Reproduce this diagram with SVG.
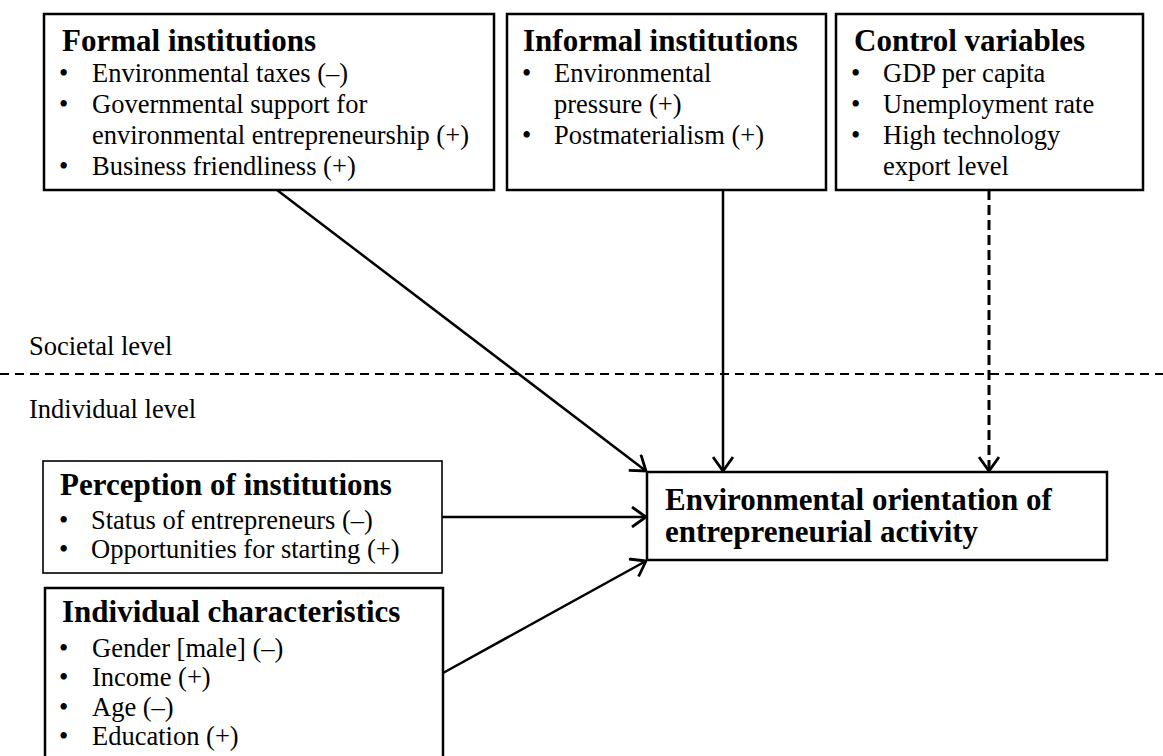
<svg xmlns="http://www.w3.org/2000/svg" width="1163" height="756" viewBox="0 0 1163 756">
<style>
.box{fill:#fff;stroke:#000;stroke-width:2.5}
.thin{fill:#fff;stroke:#000;stroke-width:1.6}
.t{font-family:"Liberation Serif","Times New Roman",serif;font-weight:bold;font-size:31px;fill:#000}
.b{font-family:"Liberation Serif","Times New Roman",serif;font-size:26.5px;fill:#000}
.lvl{font-family:"Liberation Serif","Times New Roman",serif;font-size:26.5px;fill:#000}
.c{stroke:#000;stroke-width:2.5;fill:none;marker-end:url(#ah)}
.cd{stroke:#000;stroke-width:3;fill:none;stroke-dasharray:10 5;marker-end:url(#ah)}
</style>
<defs>
<marker id="ah" viewBox="0 0 16 22" refX="15" refY="11" markerWidth="16" markerHeight="22" markerUnits="userSpaceOnUse" orient="auto">
<path d="M1,1 L15,11 L1,21" fill="none" stroke="#000" stroke-width="2.8"/>
</marker>
</defs>
<rect width="1163" height="756" fill="#fff"/>
<g id="levels">
<line x1="0" y1="374" x2="1163" y2="374" stroke="#000" stroke-width="2" stroke-dasharray="9 6"/>
<text class="lvl" x="29" y="355">Societal level</text>
<text class="lvl" x="29" y="418">Individual level</text>
</g>
<g id="connectors">
<line class="c" x1="277" y1="190" x2="646" y2="471"/>
<line class="c" x1="723" y1="190" x2="723" y2="471"/>
<line class="cd" x1="989" y1="190" x2="989" y2="471"/>
<line class="c" x1="442" y1="517" x2="646" y2="517"/>
<line class="c" x1="443" y1="673" x2="646" y2="561"/>
</g>
<g id="formal">
<rect class="box" x="44" y="14" width="450" height="176"/>
<text class="t" x="62" y="51">Formal institutions</text>
<text class="b" x="59" y="82">•</text><text class="b" x="92" y="82">Environmental taxes (–)</text>
<text class="b" x="59" y="113">•</text><text class="b" x="92" y="113">Governmental support for</text>
<text class="b" x="92" y="144">environmental entrepreneurship (+)</text>
<text class="b" x="59" y="175">•</text><text class="b" x="92" y="175">Business friendliness (+)</text>
</g>
<g id="informal">
<rect class="box" x="507" y="14" width="319" height="176"/>
<text class="t" x="523" y="51">Informal institutions</text>
<text class="b" x="522" y="82">•</text><text class="b" x="554" y="82">Environmental</text>
<text class="b" x="554" y="113">pressure (+)</text>
<text class="b" x="522" y="144">•</text><text class="b" x="554" y="144">Postmaterialism (+)</text>
</g>
<g id="control">
<rect class="box" x="836" y="14" width="307" height="176"/>
<text class="t" x="854" y="51">Control variables</text>
<text class="b" x="851" y="82">•</text><text class="b" x="883" y="82">GDP per capita</text>
<text class="b" x="851" y="113">•</text><text class="b" x="883" y="113">Unemployment rate</text>
<text class="b" x="851" y="144">•</text><text class="b" x="883" y="144">High technology</text>
<text class="b" x="883" y="175">export level</text>
</g>
<g id="perception">
<rect class="thin" x="43" y="461" width="399" height="112"/>
<text class="t" x="60" y="495">Perception of institutions</text>
<text class="b" x="59" y="529">•</text><text class="b" x="91" y="529">Status of entrepreneurs (–)</text>
<text class="b" x="59" y="558">•</text><text class="b" x="91" y="558">Opportunities for starting (+)</text>
</g>
<g id="individual">
<rect class="box" x="45" y="588" width="398" height="190"/>
<text class="t" x="62" y="622">Individual characteristics</text>
<text class="b" x="59" y="657">•</text><text class="b" x="92" y="657">Gender [male] (–)</text>
<text class="b" x="59" y="686">•</text><text class="b" x="92" y="686">Income (+)</text>
<text class="b" x="59" y="716">•</text><text class="b" x="92" y="716">Age (–)</text>
<text class="b" x="59" y="745">•</text><text class="b" x="92" y="745">Education (+)</text>
</g>
<g id="outcome">
<rect class="box" x="647" y="472" width="460" height="88"/>
<text class="t" x="665" y="510">Environmental orientation of</text>
<text class="t" x="665" y="542">entrepreneurial activity</text>
</g>
</svg>
